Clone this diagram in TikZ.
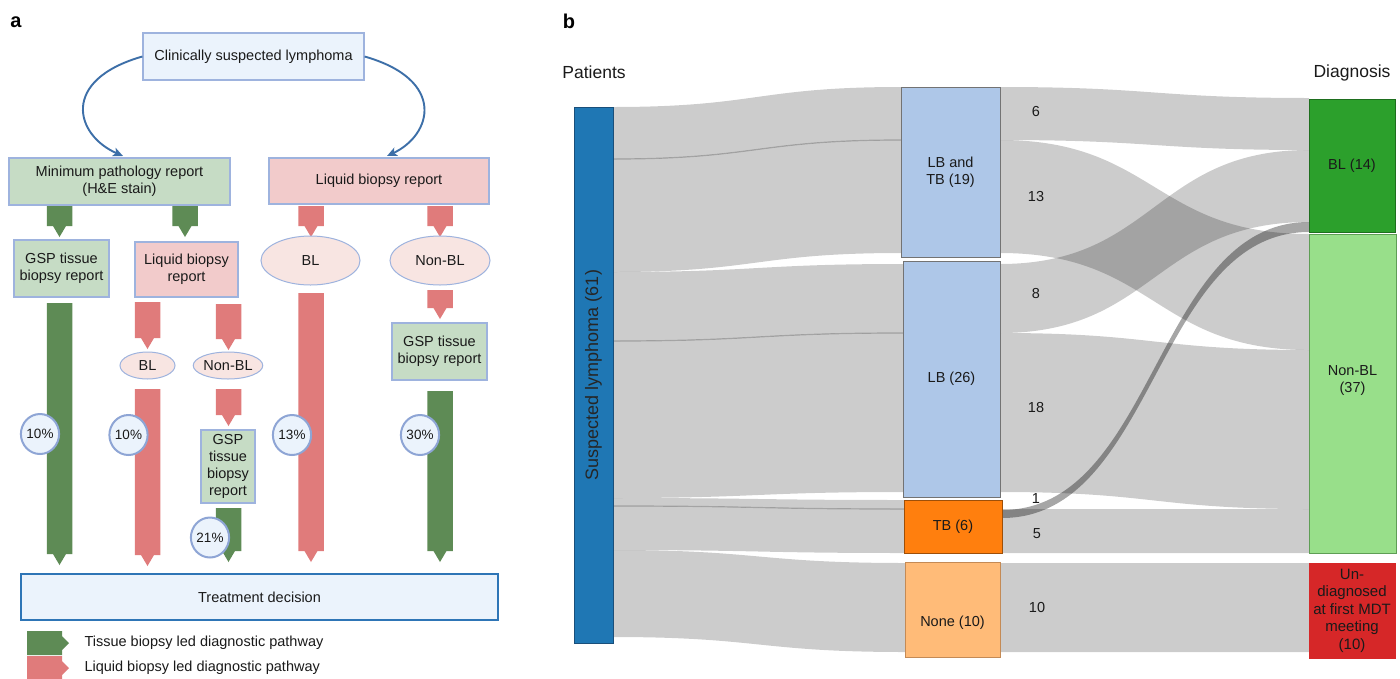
\documentclass[tikz,border=0pt]{standalone}
\usepackage{fontspec}
\setmainfont{Liberation Sans}
\usetikzlibrary{arrows.meta,shapes.geometric}
\definecolor{txt}{HTML}{1A1A1A}
\definecolor{gbar}{HTML}{5E8B55}
\definecolor{rbar}{HTML}{E07B7B}
\definecolor{gfill}{HTML}{C6DCC5}
\definecolor{pfill}{HTML}{F2CBCB}
\definecolor{efill}{HTML}{F8E5E2}
\definecolor{bfill}{HTML}{EBF3FC}
\definecolor{boxline}{HTML}{9EB3DE}
\definecolor{pctline}{HTML}{8EA5D5}
\definecolor{treatline}{HTML}{2E75B6}
\definecolor{curvecol}{HTML}{3D6FA8}
\definecolor{patc}{HTML}{1F77B4}
\definecolor{patline}{HTML}{1A4F7A}
\definecolor{lbc}{HTML}{AEC7E8}
\definecolor{tbc}{HTML}{FF7F0E}
\definecolor{tbline}{HTML}{9E4F08}
\definecolor{nonec}{HTML}{FFBB78}
\definecolor{noneline}{HTML}{C48A55}
\definecolor{blc}{HTML}{2CA02C}
\definecolor{blline}{HTML}{1E6E1E}
\definecolor{nblc}{HTML}{98DF8A}
\definecolor{nblline}{HTML}{5E9E55}
\definecolor{undc}{HTML}{D62728}
\tikzset{
  every node/.style={font=\fontsize{14.5}{17}\selectfont, text=txt},
  abox/.style={draw=boxline, line width=1.2pt, inner sep=0pt, align=center},
  gbox/.style={abox, fill=gfill},
  pbox/.style={abox, fill=pfill},
  ebox/.style={ellipse, draw=boxline, line width=1pt, fill=efill, inner sep=0pt},
  pct/.style={ellipse, draw=pctline, line width=2pt, fill=bfill, inner sep=0pt,
              minimum width=32pt, minimum height=40pt, font=\fontsize{13.5}{16}\selectfont},
  curv/.style={draw=curvecol, line width=1.9pt, -{Stealth[length=10pt,width=9pt,inset=2.5pt]}},
  snode/.style={draw=gray!90!black, line width=0.8pt, inner sep=0pt, align=center},
  band/.style={fill=black, fill opacity=0.2},
  bandd/.style={fill=black, fill opacity=0.35},
  seam/.style={draw=black, draw opacity=0.2, line width=1.2pt},
  lbl/.style={font=\fontsize{14.5}{17}\selectfont}
}
\newcommand\pathbar[4]{%
  \fill[#1] ({#2-12.75},#3) -- ({#2+12.75},#3) -- ({#2+12.75},#4) -- ({#2+6.5},#4)
    -- (#2,{#4+11}) -- ({#2-6.5},#4) -- ({#2-12.75},#4) -- cycle;}
\newcommand\skband[7][band]{%
  \fill[#1] (#2,#3) .. controls ({(#2+#5)/2},#3) and ({(#2+#5)/2},#6) .. (#5,#6)
    -- (#5,#7) .. controls ({(#2+#5)/2},#7) and ({(#2+#5)/2},#4) .. (#2,#4) -- cycle;}
\newcommand\skseam[4]{%
  \path[seam] (#1,#2) .. controls ({(#1+#3)/2},#2) and ({(#1+#3)/2},#4) .. (#3,#4);}
\begin{document}
\begin{tikzpicture}[x=1pt,y=-1pt]
\useasboundingbox[fill=white] (0,0) rectangle (1400,678);

% ---------------- panel a ----------------
\node[font=\fontsize{20}{22}\selectfont\bfseries, text=black] (la) at (16,22) {a};

\node[abox, fill=bfill, minimum width=221pt, minimum height=47pt] (top) at (253.5,56.5) {Clinically suspected lymphoma};
\node[gbox, minimum width=221pt, minimum height=47pt] (minp) at (119.5,181.5) {Minimum pathology report\\(H\&E stain)};
\node[pbox, minimum width=220pt, minimum height=46pt] (lbr) at (379,181) {Liquid biopsy report};

\draw[curv] (top.west) .. controls (60,80) and (75,135) .. (123,156);
\draw[curv] (top.east) .. controls (447,80) and (432,135) .. (387,156);

\pathbar{gbar}{59.5}{206}{226}
\pathbar{gbar}{185}{206}{226}
\pathbar{rbar}{311}{206}{226}
\pathbar{rbar}{440}{206}{226}

\node[gbox, minimum width=95pt, minimum height=57pt] (gsp1) at (61.5,268.5) {GSP tissue\\biopsy report};
\node[pbox, minimum width=103pt, minimum height=55pt] (lbr2) at (186.5,269.5) {Liquid biopsy\\report};
\node[ebox, minimum width=99pt, minimum height=49pt] (bl1) at (310.5,260.5) {BL};
\node[ebox, minimum width=100pt, minimum height=49pt] (nbl1) at (440,260.5) {Non-BL};

\pathbar{gbar}{59.5}{303}{554}
\pathbar{rbar}{147.5}{302}{338}
\pathbar{rbar}{228.5}{304}{339}
\pathbar{rbar}{147.5}{389}{555}
\pathbar{rbar}{228.5}{389}{415}
\pathbar{gbar}{228.5}{508}{551}
\pathbar{rbar}{311}{293}{551}
\pathbar{rbar}{440}{290}{308}
\pathbar{gbar}{440}{391}{551}

\node[ebox, minimum width=55pt, minimum height=27pt] (bl2) at (147.5,365.5) {BL};
\node[ebox, minimum width=54pt, minimum height=27pt] (nbl2) at (228,365.5) {Non-BL};
\node[gbox, minimum width=54pt, minimum height=73pt] (gsp3) at (228,466.5) {GSP\\tissue\\biopsy\\report};
\node[gbox, minimum width=95pt, minimum height=57pt] (gsp2) at (439.5,351.5) {GSP tissue\\biopsy report};

\node[pct] (p1) at (40,434) {10\%};
\node[pct] (p2) at (128.5,435) {10\%};
\node[pct] (p3) at (292,435) {13\%};
\node[pct] (p4) at (420,435) {30\%};
\node[pct] (p5) at (210,537.5) {21\%};

\node[draw=treatline, line width=2pt, fill=bfill, minimum width=477pt, minimum height=46pt, inner sep=0pt] (treat) at (259.5,597) {Treatment decision};

\fill[gbar] (27,631) -- (62,631) -- (62,636) -- (69,643) -- (62,650) -- (62,655) -- (27,655) -- cycle;
\fill[rbar] (27,656) -- (62,656) -- (62,661) -- (69,668) -- (62,675) -- (62,680) -- (27,680) -- cycle;
\node[anchor=west] (leg1) at (81,643) {Tissue biopsy led diagnostic pathway};
\node[anchor=west] (leg2) at (81,668) {Liquid biopsy led diagnostic pathway};

% ---------------- panel b ----------------
\node[font=\fontsize{20}{22}\selectfont\bfseries, text=black] (lb) at (569,21) {b};
\node[font=\fontsize{17.5}{20}\selectfont] (pat) at (594,72) {Patients};
\node[font=\fontsize{17.5}{20}\selectfont] (dia) at (1352,73) {Diagnosis};

% bands patients -> middle
\skband{613}{107}{159}{901}{87}{140}
\skband{613}{159}{272}{901}{140}{253}
\skband{613}{272}{341}{903}{264}{333}
\skband{613}{341}{498}{903}{333}{492}
\skband{613}{498}{506}{904}{500}{509}
\skband{613}{506}{550}{904}{509}{553}
\skband{613}{550}{637}{905}{563}{652}
\skseam{613}{159}{901}{140}
\skseam{613}{341}{903}{333}
\skseam{613}{506}{904}{509}
% bands middle -> diagnosis
\skband{1000}{87}{140}{1309}{98}{150}
\skband{1000}{140}{253}{1309}{234}{350}
\skband{1000}{264}{333}{1309}{150}{222}
\skband{1000}{333}{492}{1309}{350}{509}
\skband{1002}{509}{553}{1309}{509}{553}
\skband[bandd]{1002}{510}{518}{1309}{222}{232}
\skband{1000}{563}{652}{1309}{563}{652}

\node[snode, draw=patline, fill=patc, minimum width=39pt, minimum height=536pt] (patbar) at (593.5,375) {};
\node[rotate=90, font=\fontsize{18}{20}\selectfont, text=black!85] (patlab) at (593.5,375) {Suspected lymphoma (61)};

\node[snode, fill=lbc, minimum width=99pt, minimum height=170pt] (lbtb) at (950.5,172) {LB and\\TB (19)};
\node[snode, fill=lbc, minimum width=97pt, minimum height=236pt] (lbn) at (951.5,379) {LB (26)};
\node[snode, draw=tbline, fill=tbc, minimum width=98pt, minimum height=53pt] (tbn) at (953,526.5) {TB (6)};
\node[snode, draw=noneline, fill=nonec, minimum width=95pt, minimum height=95pt] (nonen) at (952.5,609.5) {};
\node (nonelab) at (952.5,623) {None (10)};

\node[snode, draw=blline, fill=blc, minimum width=86pt, minimum height=133pt] (bln) at (1352,165.5) {BL (14)};
\node[snode, draw=nblline, fill=nblc, minimum width=87pt, minimum height=319pt] (nbln) at (1352.5,393.5) {};
\node[align=center] (nbllab) at (1352.5,381) {Non-BL\\(37)};
\node[snode, draw=undc, fill=undc, minimum width=86pt, minimum height=95pt, font=\fontsize{15}{17.5}\selectfont] (undn) at (1352,610.5) {Un-\\diagnosed\\at first MDT\\meeting\\(10)};

\node[lbl] (n6) at (1036,112) {6};
\node[lbl] (n13) at (1036,197) {13};
\node[lbl] (n8) at (1036,294) {8};
\node[lbl] (n18) at (1036,408) {18};
\node[lbl] (n1) at (1036,499) {1};
\node[lbl] (n5) at (1037,534) {5};
\node[lbl] (n10) at (1037,607) {10};
\end{tikzpicture}
\end{document}
